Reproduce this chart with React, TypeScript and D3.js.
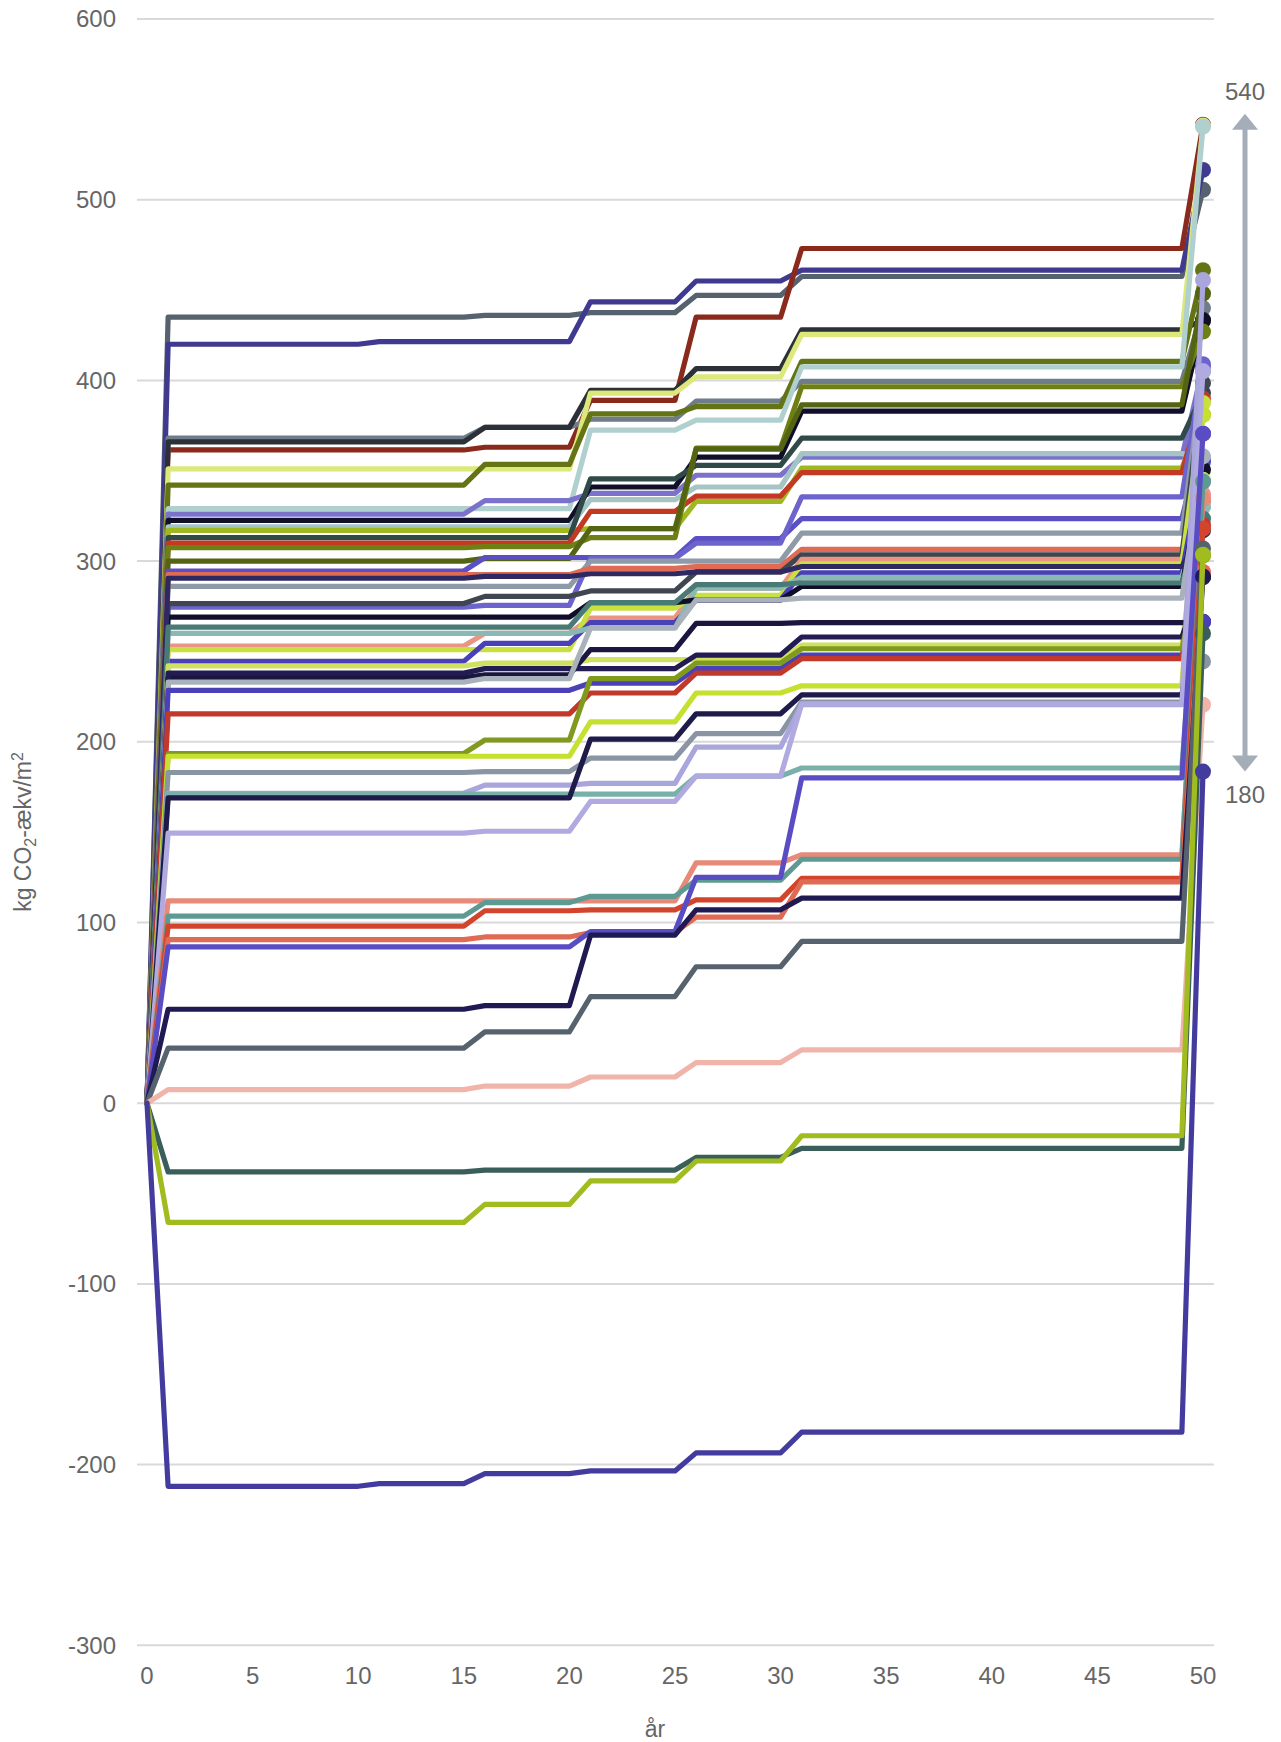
import React from "react";
import * as d3 from "d3";

// break years of the step series
const years = [0, 1, 10, 11, 15, 16, 20, 21, 25, 26, 30, 31, 49, 50];
// which level each break year takes (-1 = start at 0)
const levelIndexForYear = [-1, 0, 0, 1, 1, 2, 2, 3, 3, 4, 4, 5, 5, 6];

// levels: [yr1-10, yr11-15, yr16-20, yr21-25, yr26-30, yr31-49, yr50]
const seriesColors = [
  "#56636e", "#3f3a8f", "#8a2a1c", "#6f7c8a", "#2b3137", "#dce87a", "#647415", "#b0d0d0",
  "#7b72cc", "#110e2a", "#a5c5c4", "#a0b820", "#2f4a48", "#c23a22", "#6e8014", "#536412",
  "#5c4fc4", "#6c63cc", "#8e9aa8", "#e06b55", "#3f4650", "#e89584", "#c8e040", "#4a40b8",
  "#8ab8b4", "#110e2a", "#2e2863", "#4a7a75", "#d0e060", "#1a163f", "#231c52", "#a9b2bb",
  "#4a40b8", "#c0392b", "#7f9a1c", "#c5e02f", "#8a95a3", "#a9a6dc", "#7ab0aa", "#1e1a4a",
  "#b0aae0", "#e88a7a", "#5e9a94", "#d2452c", "#e06b55", "#5a4dc4", "#201a52", "#56636e",
  "#f0b4aa", "#3a5e5a", "#a0bc1e", "#433c9e",
];

const seriesLevels = [
  [435, 435, 436, 437.5, 447, 457.5, 505.5],
  [420, 421.5, 421.5, 443.5, 455, 461, 516.5],
  [361.5, 361.5, 363, 389, 435, 473, 541.5],
  [368, 368, 374, 378.5, 388.5, 399.5, 440],
  [366, 366, 374, 394.5, 406.5, 428, 433.5],
  [351, 351, 351, 393, 402, 425.5, 541],
  [342, 342, 353.5, 381.5, 385.5, 410.5, 461],
  [329, 329, 329, 372.5, 378, 407.5, 540.5],
  [326, 326, 333.5, 337.5, 347.5, 357.5, 407.5],
  [322.5, 322.5, 322.5, 341, 357.5, 383, 433],
  [319, 319, 319, 334, 341, 359.5, 357],
  [317, 317, 317, 318, 333, 351.5, 381],
  [313, 313, 313, 345.5, 353, 368, 393],
  [310, 310, 310, 327.5, 336, 349, 390],
  [307.5, 307.5, 308, 313, 362.5, 396.5, 427],
  [300, 300, 301.5, 318, 362, 386.5, 448],
  [294.5, 294.5, 302, 302, 312.5, 323.5, 370.5],
  [274.5, 274.5, 275.5, 301.5, 310, 335.5, 409],
  [286, 286, 286, 300, 300, 315.5, 405],
  [292.5, 292.5, 292.5, 296, 297, 306.5, 333],
  [276.5, 276.5, 280.5, 283.5, 294, 303.5, 398.5],
  [253, 253, 260, 268.5, 285, 301, 337],
  [251, 251, 251, 274, 281, 298.5, 387.5],
  [244.5, 244.5, 254.5, 266, 278.5, 293.5, 355],
  [260, 260, 260, 263, 285, 291, 330],
  [269, 269, 269, 277, 278.5, 286, 350.5],
  [290.5, 290.5, 291.5, 293, 294, 297, 317],
  [263.5, 263.5, 263.5, 277, 287, 288, 323.5],
  [242, 242, 243.5, 245.5, 245.5, 253.5, 345],
  [235.5, 235.5, 237, 251, 265.5, 266, 266.5],
  [238, 238, 240.5, 240.5, 248, 258, 291],
  [233, 233, 235, 263, 278.5, 279.5, 358],
  [228.5, 228.5, 228.5, 232.5, 240.5, 248, 266.5],
  [215.5, 215.5, 215.5, 227, 238, 246, 320],
  [193.5, 193.5, 201, 235, 243.5, 251.5, 303],
  [192, 192, 192, 211, 227, 231, 381],
  [183, 183, 183.5, 191, 204.5, 222, 244.5],
  [171.5, 171.5, 176, 177, 197, 220.5, 455.5],
  [171, 171, 171, 171, 181, 185.5, 344],
  [169, 169, 169, 201.5, 215.5, 226, 291.5],
  [149.5, 149.5, 150.5, 167, 181, 221, 405],
  [112, 112, 112, 112, 133, 137.5, 334.5],
  [103.5, 103.5, 111, 114.5, 123.5, 135, 344],
  [98, 98, 106.5, 107, 112.5, 124.5, 318],
  [90.5, 90.5, 92, 94.5, 103, 122.5, 294],
  [86.5, 86.5, 86.5, 95, 125, 180, 370.5],
  [52, 52, 54, 93, 107, 113.5, 291.5],
  [30.5, 30.5, 39.5, 59, 75.5, 89.5, 307],
  [7.5, 7.5, 9.5, 14.5, 22.5, 29.5, 220.5],
  [-38, -38, -37, -37, -30, -25, 260],
  [-66, -66, -56, -43, -32, -18, 303.5],
  [-212, -210.5, -205, -203.5, -193.5, -182, 183.5],
];

const xTicks = [0, 5, 10, 15, 20, 25, 30, 35, 40, 45, 50];
const yTicks = [-300, -200, -100, 0, 100, 200, 300, 400, 500, 600];
const rangeLabels = ["540", "180"];
const rangeValues = [547.5, 183.5];

const W = 1281;
const H = 1742;

export default function App() {
  const x = d3.scaleLinear().domain([0, 50]).range([147, 1203]);
  const y = d3.scaleLinear().domain([-300, 600]).range([1645.3, 19]);
  const line = d3
    .line<[number, number]>()
    .x((d) => x(d[0]))
    .y((d) => y(d[1]));

  const series = seriesLevels.map((lv, i) => ({
    color: seriesColors[i],
    points: years.map((yr, k) => [yr, levelIndexForYear[k] < 0 ? 0 : lv[levelIndexForYear[k]]] as [number, number]),
  }));

  const font = "'Liberation Sans', Arial, sans-serif";
  const arrowX = 1245;
  const yTop = y(rangeValues[0]);
  const yBot = y(rangeValues[1]);

  return (
    <svg
      width={W}
      height={H}
      style={{ position: "absolute", left: 0, top: 0, background: "#fff" }}
      fontFamily={font}
    >
      <rect x={0} y={0} width={W} height={H} fill="#fff" />
      {yTicks.map((t) => (
        <g key={t}>
          <line x1={137} x2={1214} y1={y(t)} y2={y(t)} stroke="#d9d9d9" strokeWidth={2} />
          <text x={116} y={y(t)} dy="0.35em" textAnchor="end" fontSize={24} fill="#666">
            {t}
          </text>
        </g>
      ))}
      {xTicks.map((t) => (
        <text key={t} x={x(t)} y={1684} textAnchor="middle" fontSize={24} fill="#666">
          {t}
        </text>
      ))}
      <text x={655} y={1737} textAnchor="middle" fontSize={23} fill="#666">
        år
      </text>
      <text
        transform={`translate(31, 832) rotate(-90)`}
        textAnchor="middle"
        fontSize={23}
        fill="#666"
      >
        kg CO
        <tspan fontSize={16} dy={5}>2</tspan>
        <tspan dy={-5}>-ækv/m</tspan>
        <tspan fontSize={16} dy={-8}>2</tspan>
      </text>

      {series.map((s, i) => (
        <g key={i}>
          <path
            d={line(s.points) || ""}
            fill="none"
            stroke={s.color}
            strokeWidth={5.2}
            strokeLinejoin="round"
            strokeLinecap="round"
          />
          <circle cx={x(50)} cy={y(s.points[s.points.length - 1][1])} r={8} fill={s.color} />
        </g>
      ))}

      {/* range annotation */}
      <line x1={arrowX} x2={arrowX} y1={yTop + 14} y2={yBot - 14} stroke="#a4adb8" strokeWidth={5} />
      <polygon
        points={`${arrowX},${yTop} ${arrowX - 13},${yTop + 16} ${arrowX + 13},${yTop + 16}`}
        fill="#a4adb8"
      />
      <polygon
        points={`${arrowX},${yBot} ${arrowX - 13},${yBot - 16} ${arrowX + 13},${yBot - 16}`}
        fill="#a4adb8"
      />
      <text x={arrowX} y={y(rangeValues[0]) - 22} dy="0.35em" textAnchor="middle" fontSize={24} fill="#666">
        {rangeLabels[0]}
      </text>
      <text x={arrowX} y={y(rangeValues[1]) + 23} dy="0.35em" textAnchor="middle" fontSize={24} fill="#666">
        {rangeLabels[1]}
      </text>
    </svg>
  );
}
